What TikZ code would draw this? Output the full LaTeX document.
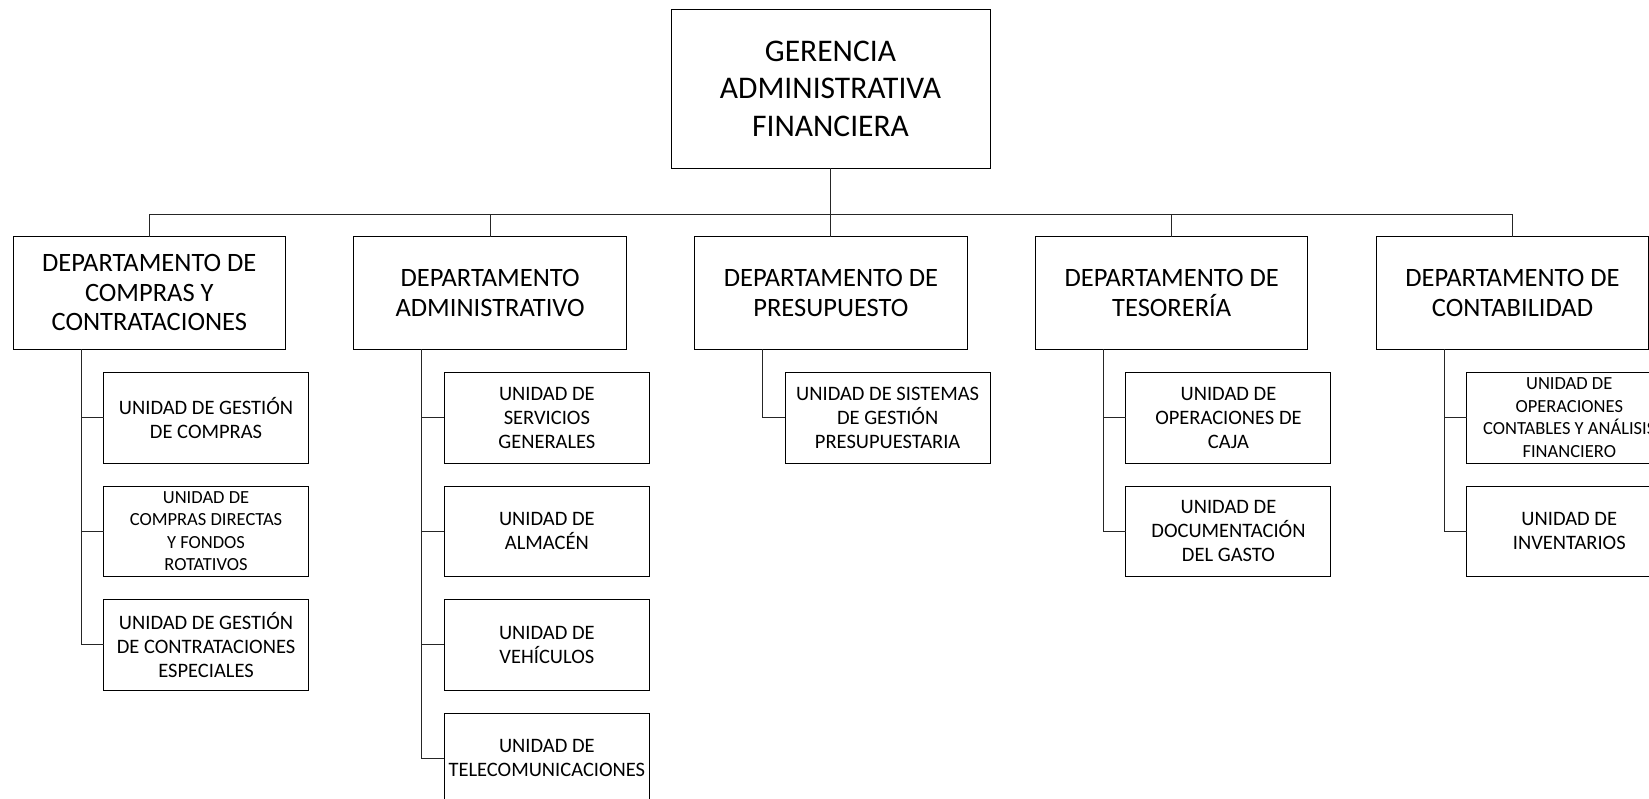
\documentclass[tikz,border=0pt]{standalone}
\usepackage{fontspec}
\setmainfont{Carlito}
\usetikzlibrary{positioning}
\definecolor{LineClr}{rgb}{0.15,0.15,0.15}

\begin{document}
\begin{tikzpicture}[x=1pt,y=-1pt,line width=1pt,
  head/.style={draw=black,outer sep=0pt,inner sep=0pt,minimum width=319pt,minimum height=158.5pt,align=center,font=\fontsize{31.5}{37.7}\selectfont},
  dept/.style={draw=black,outer sep=0pt,inner sep=0pt,minimum width=272.5pt,minimum height=112.5pt,align=center,font=\fontsize{26.5}{29.5}\selectfont},
  unit/.style={draw=black,outer sep=0pt,inner sep=0pt,minimum width=205pt,minimum height=90.5pt,align=center,font=\fontsize{20.5}{24}\selectfont},
  unitsmall/.style={font=\fontsize{18.5}{22.5}\selectfont},
  link/.style={draw=LineClr,line width=1.1pt}]
\useasboundingbox (0,0) rectangle (1649,799);
\clip (0,0) rectangle (1649,799);

\node[head] (gaf) at (830.5,88.8) {GERENCIA\\ADMINISTRATIVA\\FINANCIERA};
\coordinate (bus) at (830.5,214.5);

\node[dept] (dCom) at (149.3,292.8) {DEPARTAMENTO DE\\COMPRAS Y\\CONTRATACIONES};
\node[dept,right=68.3pt of dCom] (dAdm) {DEPARTAMENTO\\ADMINISTRATIVO};
\node[dept,right=68.3pt of dAdm] (dPre) {DEPARTAMENTO DE\\PRESUPUESTO};
\node[dept,right=68.3pt of dPre] (dTes) {DEPARTAMENTO DE\\TESORERÍA};
\node[dept,right=68.3pt of dTes] (dCon) {DEPARTAMENTO DE\\CONTABILIDAD};

\node[unit,below right=23.5pt and 90.5pt of dCom.south west] (uCom1) {UNIDAD DE GESTIÓN\\DE COMPRAS};
\node[unit,unitsmall,below=23pt of uCom1] (uCom2) {UNIDAD DE\\COMPRAS DIRECTAS\\Y FONDOS\\ROTATIVOS};
\node[unit,below=23pt of uCom2] (uCom3) {UNIDAD DE GESTIÓN\\DE CONTRATACIONES\\ESPECIALES};

\node[unit,below right=23.5pt and 90.5pt of dAdm.south west] (uAdm1) {UNIDAD DE\\SERVICIOS\\GENERALES};
\node[unit,below=23pt of uAdm1] (uAdm2) {UNIDAD DE\\ALMACÉN};
\node[unit,below=23pt of uAdm2] (uAdm3) {UNIDAD DE\\VEHÍCULOS};
\node[unit,below=23pt of uAdm3] (uAdm4) {UNIDAD DE\\TELECOMUNICACIONES};

\node[unit,below right=23.5pt and 90.5pt of dPre.south west] (uPre1) {UNIDAD DE SISTEMAS\\DE GESTIÓN\\PRESUPUESTARIA};

\node[unit,below right=23.5pt and 90.5pt of dTes.south west] (uTes1) {UNIDAD DE\\OPERACIONES DE\\CAJA};
\node[unit,below=23pt of uTes1] (uTes2) {UNIDAD DE\\DOCUMENTACIÓN\\DEL GASTO};

\node[unit,unitsmall,below right=23.5pt and 90.5pt of dCon.south west] (uCon1) {UNIDAD DE\\OPERACIONES\\CONTABLES Y ANÁLISIS\\FINANCIERO};
\node[unit,below=23pt of uCon1] (uCon2) {UNIDAD DE\\INVENTARIOS};

\draw[link] (gaf.south) -- (bus);
\draw[link] (dCom.north) |- (bus) -| (dCon.north);
\draw[link] (dAdm.north) -- (dAdm.north |- bus);
\draw[link] (dPre.north) -- (dPre.north |- bus);
\draw[link] (dTes.north) -- (dTes.north |- bus);

\coordinate (tCom) at ([xshift=68pt]dCom.south west);
\coordinate (tAdm) at ([xshift=68pt]dAdm.south west);
\coordinate (tPre) at ([xshift=68pt]dPre.south west);
\coordinate (tTes) at ([xshift=68pt]dTes.south west);
\coordinate (tCon) at ([xshift=68pt]dCon.south west);

\draw[link] (tCom) |- (uCom1.west) (tCom) |- (uCom2.west) (tCom) |- (uCom3.west);
\draw[link] (tAdm) |- (uAdm1.west) (tAdm) |- (uAdm2.west) (tAdm) |- (uAdm3.west) (tAdm) |- (uAdm4.west);
\draw[link] (tPre) |- (uPre1.west);
\draw[link] (tTes) |- (uTes1.west) (tTes) |- (uTes2.west);
\draw[link] (tCon) |- (uCon1.west) (tCon) |- (uCon2.west);

\end{tikzpicture}
\end{document}
